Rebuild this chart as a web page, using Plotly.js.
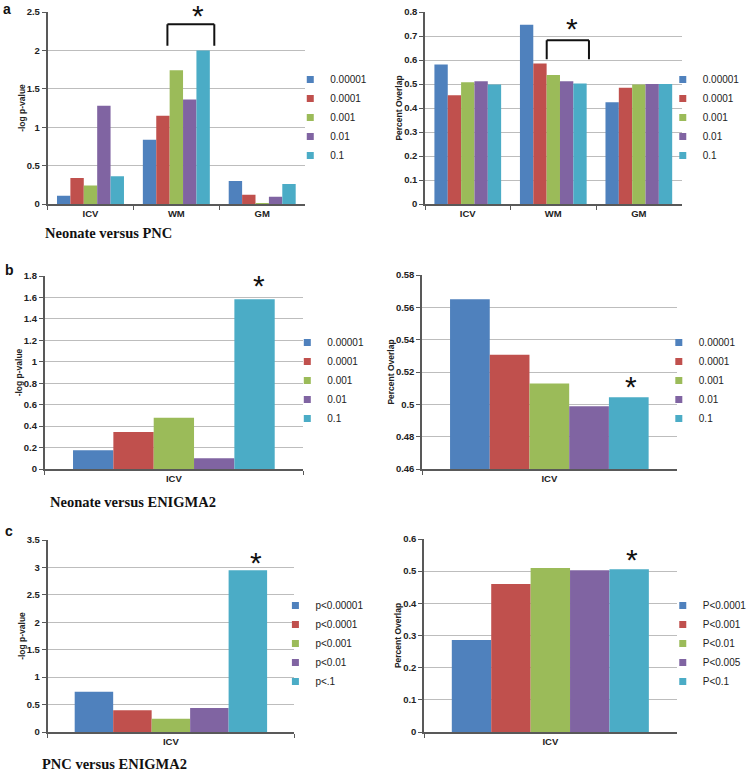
<!DOCTYPE html>
<html>
<head>
<meta charset="utf-8">
<script src="https://cdn.plot.ly/plotly-3.0.1.min.js"></script>
<style>html,body{margin:0;padding:0;background:#fff;}#chart{width:752px;height:772px;}</style>
</head>
<body>
<div id="chart"></div>
<script>
// ---------- data ----------
const thresholds = ['0.00001', '0.0001', '0.001', '0.01', '0.1'];
const thresholdsPNCp = ['p<0.00001', 'p<0.0001', 'p<0.001', 'p<0.01', 'p<.1'];
const thresholdsPNCoverlap = ['P<0.0001', 'P<0.001', 'P<0.01', 'P<0.005', 'P<0.1'];
const regionsA = ['ICV', 'WM', 'GM'];
const regionsBC = ['ICV'];

// (a) Neonate versus PNC: one array per threshold across ICV, WM, GM
const aLogP = [
  [0.108, 0.835, 0.30],
  [0.34, 1.15, 0.12],
  [0.24, 1.74, 0.012],
  [1.28, 1.36, 0.095],
  [0.36, 2.00, 0.26]
];
const aOverlap = [
  [0.581, 0.747, 0.424],
  [0.453, 0.585, 0.484],
  [0.507, 0.537, 0.498],
  [0.511, 0.511, 0.500],
  [0.498, 0.502, 0.500]
];
// (b) Neonate versus ENIGMA2 (ICV), one value per threshold
const bLogP = [0.174, 0.345, 0.478, 0.10, 1.583];
const bOverlap = [0.565, 0.5307, 0.5129, 0.4988, 0.5044];
// (c) PNC versus ENIGMA2 (ICV)
const cLogP = [0.736, 0.396, 0.243, 0.438, 2.95];
const cOverlap = [0.286, 0.460, 0.5095, 0.503, 0.506];

const colors = ['#4F81BD', '#C0504D', '#9BBB59', '#8064A2', '#4BACC6'];

// ---------- layout helpers ----------
const W = 752, H = 772;
const xd = (l, r) => [l / W, r / W];
const yd = (t, b) => [1 - b / H, 1 - t / H];

const panels = [
  {id: '',  leg: 'legend',  xdom: xd(48, 308),  ydom: yd(12, 204),  range: [0, 2.5],     dtick: 0.5,  title: '-log p-value',   names: thresholds,           cats: regionsA,  vals: aLogP,   legX: 333, legY: 78},
  {id: '2', leg: 'legend2', xdom: xd(429, 688), ydom: yd(12, 204),  range: [0, 0.8],     dtick: 0.1,  title: 'Percent Overlap', names: thresholds,          cats: regionsA,  vals: aOverlap, legX: 709, legY: 78},
  {id: '3', leg: 'legend3', xdom: xd(45, 306),  ydom: yd(276, 469), range: [0, 1.8],     dtick: 0.2,  title: '-log p-value',   names: thresholds,           cats: regionsBC, vals: bLogP.map(v => [v]),   legX: 330, legY: 341},
  {id: '4', leg: 'legend4', xdom: xd(426, 683), ydom: yd(275, 469), range: [0.46, 0.58], dtick: 0.02, title: 'Percent Overlap', names: thresholds,          cats: regionsBC, vals: bOverlap.map(v => [v]), legX: 705, legY: 341},
  {id: '5', leg: 'legend5', xdom: xd(48, 297),  ydom: yd(540, 732), range: [0, 3.5],     dtick: 0.5,  title: '-log p-value',   names: thresholdsPNCp,       cats: regionsBC, vals: cLogP.map(v => [v]),   legX: 318, legY: 604},
  {id: '6', leg: 'legend6', xdom: xd(428, 683), ydom: yd(539, 732), range: [0, 0.6],     dtick: 0.1,  title: 'Percent Overlap', names: thresholdsPNCoverlap, cats: regionsBC, vals: cOverlap.map(v => [v]), legX: 709, legY: 604}
];

const tickFont = {family: 'Liberation Sans, Arial, sans-serif', size: 9.5, color: '#222', weight: 'bold'};
const axisCol = '#595959';

const traces = [];
const layout = {
  width: W, height: H,
  margin: {l: 0, r: 0, t: 0, b: 0},
  paper_bgcolor: '#fff', plot_bgcolor: 'rgba(0,0,0,0)',
  barmode: 'group', bargap: 0.22, bargroupgap: 0,
  showlegend: true,
  font: {family: 'Liberation Sans, Arial, sans-serif', color: '#222'},
  annotations: [], shapes: []
};

panels.forEach(p => {
  const xa = 'x' + p.id, ya = 'y' + p.id;
  p.names.forEach((nm, i) => {
    traces.push({
      type: 'bar', name: nm, x: p.cats, y: p.vals[i],
      xaxis: xa, yaxis: ya, showlegend: false,
      marker: {color: colors[i], line: {width: 0}},
      hoverinfo: 'x+y+name'
    });
  });
  // legend keys: small square swatches (no data points of their own)
  p.names.forEach((nm, i) => {
    traces.push({
      type: 'scatter', mode: 'markers', name: nm, x: [null], y: [null],
      xaxis: xa, yaxis: ya, legend: p.leg, showlegend: true,
      marker: {color: colors[i], symbol: 'square', size: 7, line: {width: 0}},
      hoverinfo: 'skip'
    });
  });
  layout['xaxis' + p.id] = {
    domain: p.xdom, anchor: ya, type: 'category', categoryorder: 'array', categoryarray: p.cats,
    range: [-0.5, p.cats.length - 0.5],
    showline: true, linecolor: axisCol, linewidth: 1.5,
    ticks: 'outside', tickson: 'boundaries', ticklen: 4, tickcolor: axisCol,
    showgrid: false, zeroline: false, tickfont: tickFont, fixedrange: true
  };
  layout['yaxis' + p.id] = {
    domain: p.ydom, anchor: xa, range: p.range, dtick: p.dtick, tick0: 0,
    showline: true, linecolor: axisCol, linewidth: 1.5,
    ticks: 'outside', ticklen: 4, tickcolor: axisCol,
    showgrid: true, gridcolor: '#BDBDBD', gridwidth: 1, zeroline: false,
    tickfont: tickFont, fixedrange: true,
    title: {text: p.title, font: {family: 'Liberation Sans, Arial, sans-serif', size: 8.5, color: '#222', weight: 'bold'}, standoff: 0}
  };
  layout[p.leg] = {
    x: (p.legX - 40) / W, xanchor: 'left',
    y: 1 - (p.legY - 13) / H, yanchor: 'top',
    bgcolor: 'rgba(0,0,0,0)', borderwidth: 0,
    font: {family: 'Liberation Sans, Arial, sans-serif', size: 10, color: '#222'},
    traceorder: 'normal', itemclick: false, itemdoubleclick: false
  };
});

// significance asterisks
const stars = [
  {ax: '',  x: 1.25,  y: 2.48},
  {ax: '2', x: 1.22,  y: 0.74},
  {ax: '3', x: 0.33,  y: 1.73},
  {ax: '4', x: 0.32,  y: 0.512},
  {ax: '5', x: 0.346, y: 3.13},
  {ax: '6', x: 0.324, y: 0.543}
];
stars.forEach(s => layout.annotations.push({
  xref: 'x' + s.ax, yref: 'y' + s.ax, x: s.x, y: s.y, text: '*', showarrow: false,
  yshift: -2, font: {family: 'Liberation Sans, Arial, sans-serif', size: 30, color: '#111'}
}));

// brackets over the WM group in panel a
const brackets = [
  {ax: '',  x0: 0.896, x1: 1.442, yb: 2.06,  yt: 2.34},
  {ax: '2', x0: 0.923, x1: 1.417, yb: 0.603, yt: 0.682}
];
brackets.forEach(b => {
  const base = {type: 'line', xref: 'x' + b.ax, yref: 'y' + b.ax, line: {color: '#111', width: 2}};
  layout.shapes.push(Object.assign({}, base, {x0: b.x0, x1: b.x0, y0: b.yb, y1: b.yt}));
  layout.shapes.push(Object.assign({}, base, {x0: b.x0, x1: b.x1, y0: b.yt, y1: b.yt}));
  layout.shapes.push(Object.assign({}, base, {x0: b.x1, x1: b.x1, y0: b.yt, y1: b.yb}));
});

// panel letters and comparison captions
const letters = [['a', 7, 9], ['b', 10, 270], ['c', 9, 531]];
letters.forEach(([t, px, py]) => layout.annotations.push({
  xref: 'paper', yref: 'paper', x: px / W, y: 1 - py / H, xanchor: 'center', yanchor: 'middle',
  text: t, showarrow: false, font: {family: 'Liberation Sans, Arial, sans-serif', size: 14, color: '#111', weight: 'bold'}
}));
const captions = [['Neonate versus PNC', 43, 233], ['Neonate versus ENIGMA2', 48, 502], ['PNC versus ENIGMA2', 40, 764]];
captions.forEach(([t, px, py]) => layout.annotations.push({
  xref: 'paper', yref: 'paper', x: px / W, y: 1 - py / H, xanchor: 'left', yanchor: 'middle',
  text: t, showarrow: false, font: {family: 'Liberation Serif, Times New Roman, serif', size: 14.5, color: '#111', weight: 'bold'}
}));

Plotly.newPlot('chart', traces, layout, {displayModeBar: false});
</script>
</body>
</html>
